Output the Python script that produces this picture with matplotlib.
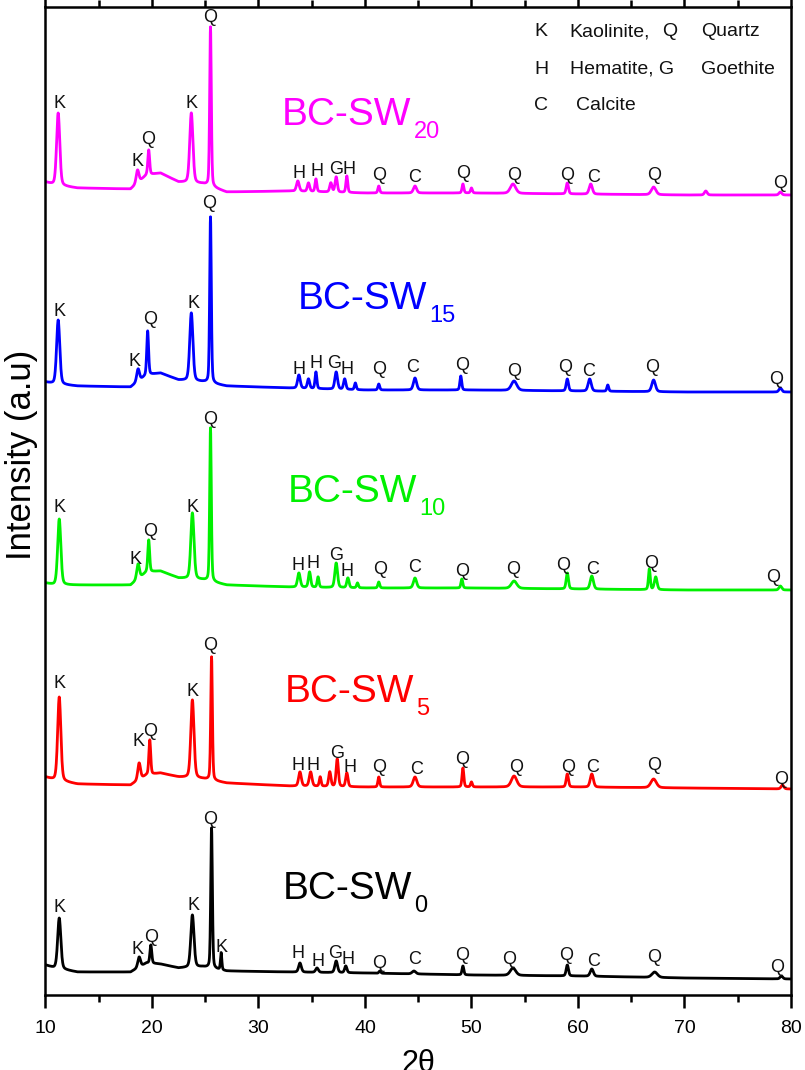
import numpy as np
import matplotlib.pyplot as plt

plt.rcParams['font.family'] = ['Liberation Sans', 'DejaVu Sans']
plt.rcParams['mathtext.fontset'] = 'custom'
plt.rcParams['mathtext.rm'] = 'Liberation Sans'

W, H = 805, 1070

# background knots (2theta) shared by all patterns
bg_theta = [10, 10.8, 13, 18, 19.5, 20.8, 22.5, 24.8, 27, 33, 40, 50, 60, 70, 80]

# intensities in a.u. (stacked, offset already included)
sw0_bg = [30, 27, 23, 23, 32, 31, 27, 28, 24, 23, 22, 20, 19, 17, 16]
sw5_bg = [218, 215, 211, 210, 220, 222, 218, 216, 212, 209, 208, 208, 208, 207, 206]
sw10_bg = [412, 410, 410, 410, 423, 424, 417, 415, 410, 408, 407, 407, 406, 405, 405]
sw15_bg = [613, 611, 609, 608, 620, 622, 615, 613, 609, 607, 605, 605, 604, 603, 603]
sw20_bg = [813, 810, 807, 806, 820, 822, 813, 811, 803, 804, 802, 802, 801, 800, 800]

# peaks: (2theta, top intensity, fwhm)
sw0_peaks = [(11.3, 77, 0.35), (18.8, 38, 0.3), (19.9, 50, 0.2), (23.8, 80, 0.35),
             (25.6, 167, 0.18), (26.5, 42, 0.15), (33.9, 32, 0.3), (35.5, 27, 0.3),
             (37.3, 34, 0.3), (38.2, 29, 0.25), (41.4, 24, 0.2), (44.6, 24, 0.4),
             (49.2, 29, 0.2), (53.9, 27, 0.6), (59.0, 30, 0.25), (61.3, 26, 0.35),
             (67.2, 23, 0.6), (79.1, 19, 0.3)]
sw5_peaks = [(11.3, 298, 0.35), (18.8, 232, 0.3), (19.8, 255, 0.2), (23.8, 295, 0.35),
             (25.6, 338, 0.18), (33.9, 223, 0.3), (34.9, 223, 0.3), (35.8, 218, 0.2),
             (36.7, 223, 0.25), (37.4, 236, 0.25), (38.3, 222, 0.25), (41.3, 218, 0.2),
             (44.7, 218, 0.4), (49.2, 227, 0.2), (50.0, 213, 0.2), (54.0, 219, 0.6),
             (59.0, 221, 0.25), (61.3, 221, 0.35), (67.1, 216, 0.6), (79.2, 210, 0.3)]
sw10_peaks = [(11.3, 476, 0.35), (18.7, 431, 0.3), (19.7, 455, 0.2), (23.8, 482, 0.35),
              (25.5, 567, 0.18), (33.8, 422, 0.3), (34.8, 423, 0.25), (35.6, 418, 0.2),
              (37.3, 432, 0.3), (38.4, 417, 0.25), (39.3, 412, 0.2), (41.3, 413, 0.2),
              (44.7, 417, 0.35), (49.1, 416, 0.2), (54.0, 414, 0.6), (59.0, 422, 0.25),
              (61.3, 419, 0.35), (66.7, 426, 0.2), (67.3, 418, 0.3), (79.0, 409, 0.3)]
sw15_peaks = [(11.2, 675, 0.35), (18.7, 626, 0.3), (19.6, 664, 0.2), (23.7, 682, 0.35),
              (25.5, 778, 0.18), (33.8, 620, 0.3), (34.7, 616, 0.25), (35.4, 623, 0.2),
              (37.3, 623, 0.3), (38.1, 616, 0.25), (39.1, 612, 0.2), (41.3, 611, 0.2),
              (44.7, 617, 0.35), (49.0, 619, 0.2), (54.0, 614, 0.6), (59.0, 616, 0.25),
              (61.1, 616, 0.35), (62.8, 610, 0.2), (67.1, 615, 0.4), (79.0, 607, 0.3)]
sw20_peaks = [(11.2, 882, 0.35), (18.65, 825, 0.3), (19.7, 845, 0.2), (23.7, 882, 0.35),
              (25.5, 968, 0.18), (33.7, 814, 0.3), (34.7, 812, 0.25), (35.4, 816, 0.2),
              (36.8, 812, 0.25), (37.3, 818, 0.25), (38.3, 819, 0.2), (41.3, 809, 0.2),
              (44.7, 809, 0.35), (49.2, 811, 0.2), (50.0, 807, 0.2), (53.9, 811, 0.6),
              (59.0, 812, 0.25), (61.2, 811, 0.35), (67.1, 808, 0.5), (72.0, 804, 0.3),
              (79.0, 803, 0.3)]

# phase labels: (letter, 2theta, intensity)
sw0_labels = [('K', 11.37, 88), ('K', 18.68, 46), ('Q', 19.9, 58), ('K', 23.93, 89),
              ('Q', 25.43, 175), ('K', 26.56, 47), ('H', 33.68, 41), ('H', 35.56, 34),
              ('G', 37.2, 42), ('H', 38.45, 35), ('Q', 41.37, 32), ('C', 44.65, 35),
              ('Q', 49.15, 39), ('Q', 53.56, 35), ('Q', 58.9, 40), ('C', 61.43, 34),
              ('Q', 67.15, 37), ('Q', 78.69, 28)]
sw5_labels = [('K', 11.37, 311), ('K', 18.78, 253), ('Q', 19.81, 263), ('K', 23.84, 303),
              ('Q', 25.43, 349), ('H', 33.68, 229), ('H', 35.1, 230), ('G', 37.43, 242),
              ('H', 38.56, 228), ('Q', 41.37, 228), ('C', 44.84, 225), ('Q', 49.15, 235),
              ('Q', 54.22, 228), ('Q', 59.09, 228), ('C', 61.34, 228), ('Q', 67.15, 229),
              ('Q', 79.06, 216)]
sw10_labels = [('K', 11.37, 488), ('K', 18.5, 435), ('Q', 19.81, 463), ('K', 23.84, 487),
               ('Q', 25.43, 575), ('H', 33.68, 430), ('H', 35.1, 431), ('G', 37.34, 439),
               ('H', 38.29, 424), ('Q', 41.47, 426), ('C', 44.65, 428), ('Q', 49.15, 424),
               ('Q', 53.94, 425), ('Q', 58.63, 429), ('C', 61.34, 426), ('Q', 66.88, 432),
               ('Q', 78.32, 418)]
sw15_labels = [('K', 11.28, 683), ('K', 18.4, 633), ('Q', 19.81, 676), ('K', 23.93, 691),
               ('Q', 25.34, 792), ('H', 33.78, 626), ('H', 35.38, 632), ('G', 37.07, 631),
               ('H', 38.29, 625), ('Q', 41.37, 625), ('C', 44.46, 628), ('Q', 49.15, 629),
               ('Q', 54.03, 624), ('Q', 58.81, 627), ('C', 60.97, 623), ('Q', 66.97, 628),
               ('Q', 78.6, 615)]
sw20_labels = [('K', 11.28, 891), ('K', 18.68, 834), ('Q', 19.62, 855), ('K', 23.74, 892),
               ('Q', 25.43, 977), ('H', 33.78, 821), ('H', 35.47, 824), ('G', 37.25, 825),
               ('H', 38.47, 825), ('Q', 41.37, 819), ('C', 44.65, 818), ('Q', 49.25, 821),
               ('Q', 54.03, 820), ('Q', 59.0, 820), ('C', 61.43, 817), ('Q', 67.15, 820),
               ('Q', 78.97, 812)]

sample_names = ['BC-SW', 'BC-SW', 'BC-SW', 'BC-SW', 'BC-SW']
sample_subs = ['0', '5', '10', '15', '20']
name_pos = [(32.28, 106), (32.47, 303), (32.76, 503), (33.7, 696), (32.2, 880)]
colors = ['black', '#ff0000', '#00f000', '#0000ff', '#ff00ff']

bgs = [sw0_bg, sw5_bg, sw10_bg, sw15_bg, sw20_bg]
peaks = [sw0_peaks, sw5_peaks, sw10_peaks, sw15_peaks, sw20_peaks]
labels = [sw0_labels, sw5_labels, sw10_labels, sw15_labels, sw20_labels]

tt = np.linspace(10, 80, 3501)


def pattern(bg, pk):
    y = np.interp(tt, bg_theta, bg)
    for pos, top, fwhm in pk:
        h = top - np.interp(pos, bg_theta, bg)
        hw = fwhm / 2
        gauss = np.exp(-np.log(2) * ((tt - pos) / hw) ** 2)
        lor = 1 / (1 + ((tt - pos) / hw) ** 2)
        y = y + h * (0.7 * gauss + 0.3 * lor)
    return y


fig = plt.figure(figsize=(W / 100, H / 100), dpi=100)
ax = fig.add_axes([45.4 / W, 1 - 995 / H, (791 - 45.4) / W, (995 - 7) / H])

for bg, pk, lab, col, name, sub, (nx, ny) in zip(bgs, peaks, labels, colors,
                                                 sample_names, sample_subs, name_pos):
    ax.plot(tt, pattern(bg, pk), color=col, lw=2.0)
    for letter, x, y in lab:
        ax.text(x, y, letter, ha='center', va='center', fontsize=13, color='#111111')
    t = ax.text(nx, ny, name, ha='left', va='center', fontsize=28, color=col)
    ax.annotate(sub, xy=(1, 0), xycoords=t, xytext=(1.5, 1), textcoords='offset points',
                ha='left', va='center', fontsize=17, color=col)

ax.set_xlim(10, 80)
ax.set_ylim(0, 988)
ax.set_yticks([])
ax.set_xticks(np.arange(10, 81, 10))
ax.set_xticks(np.arange(15, 80, 10), minor=True)
ax.tick_params(axis='x', which='major', direction='out', length=9, width=1.8,
               labelsize=14, pad=9, top=True)
ax.tick_params(axis='x', which='minor', direction='out', length=5, width=1.8, top=True)
for s in ax.spines.values():
    s.set_linewidth(1.8)

ax.set_xlabel('2θ', fontsize=22, labelpad=9)
fig.text(22 / W, 1 - 455 / H, 'Intensity (a.u)', rotation=90, ha='center', va='center',
         fontsize=25)

# phase key in the top right corner
key = [('K', 534, 32), ('Kaolinite,', 569, 32), ('Q', 662, 32), ('Quartz', 701, 32),
       ('H', 534, 69), ('Hematite, G', 570, 69), ('Goethite', 701, 69),
       ('C', 534, 106), ('Calcite', 576, 106)]
for s, x, y in key:
    fig.text(x / W, 1 - y / H, s, ha='left', va='center', fontsize=14, color='#111111')

fig.savefig('out.png', dpi=100)
